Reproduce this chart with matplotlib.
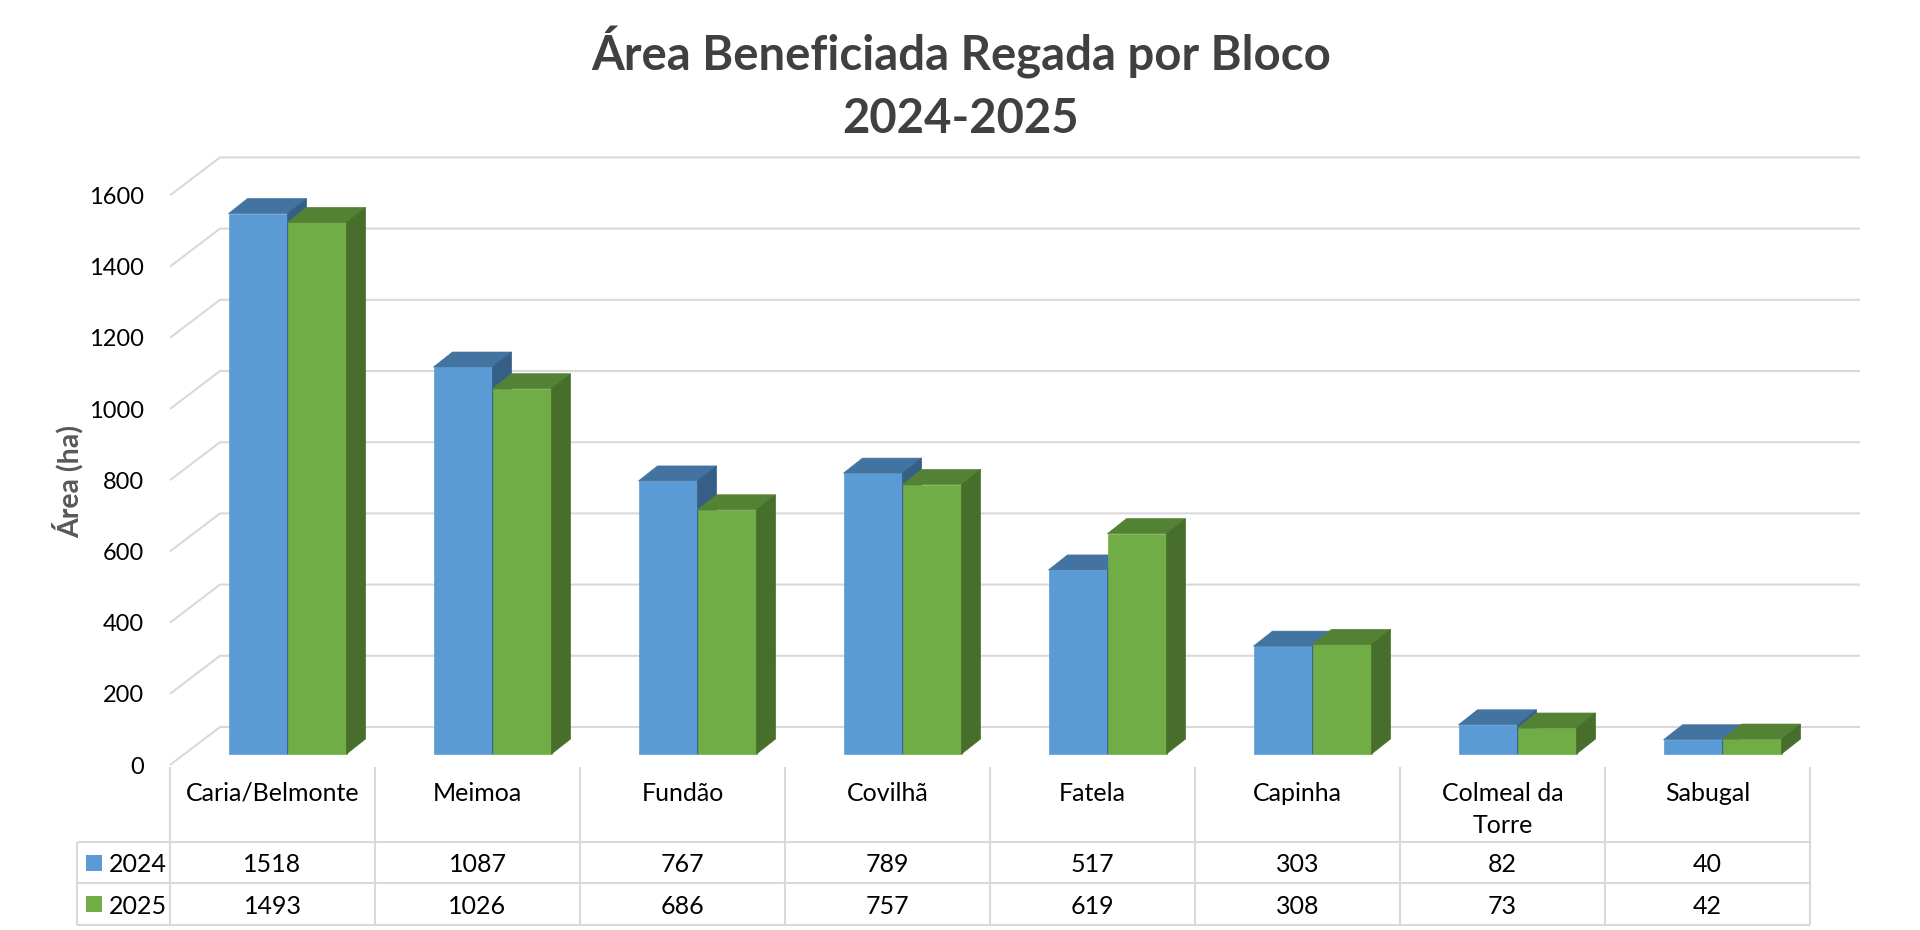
import matplotlib.pyplot as plt
from matplotlib.patches import Polygon, Rectangle

# dados
blocos = ['Caria/Belmonte', 'Meimoa', 'Fundão', 'Covilhã', 'Fatela', 'Capinha',
          'Colmeal da\nTorre', 'Sabugal']
anos = ['2024', '2025']
area_2024 = [1518, 1087, 767, 789, 517, 303, 82, 40]
area_2025 = [1493, 1026, 686, 757, 619, 308, 73, 42]
yticks = [0, 200, 400, 600, 800, 1000, 1200, 1400, 1600]

plt.rcParams['font.family'] = ['Lato', 'DejaVu Sans']

W, H = 1920, 930
fig = plt.figure(figsize=(19.2, 9.3), dpi=100)

# geometria em pixeis (plano da frente)
x0_px, y0_px = 170, 765
col_px = 205
unit_px = 71.2 / 200
top_px = 120
n = len(blocos)

wall_dx, wall_dy = 50 / col_px, 38 / unit_px
ax = fig.add_axes([x0_px / W, 1 - y0_px / H, (n * col_px + 50) / W, (y0_px - top_px) / H])
ax.set_xlim(0, n + wall_dx)
ax.set_ylim(0, (y0_px - top_px) / unit_px)
ax.axis('off')

grid_c = '#d9d9d9'
for v in yticks:
    ax.plot([0, wall_dx, n + wall_dx], [v, v + wall_dy, v + wall_dy],
            color=grid_c, lw=1.5, zorder=1, clip_on=False, solid_capstyle='butt')
    ax.text(-26 / col_px, v, str(v), ha='right', va='center_baseline',
            fontsize=17, color='black', clip_on=False)

# barras 3D (frente + topo + lado)
off_x, off_y = 15 / col_px, 11 / unit_px
bw = 59 / col_px
bdx, bdy = 19 / col_px, 15 / unit_px
centers = [i + 0.5 + off_x for i in range(n)]
series = [
    (area_2024, '#5b9bd5', '#4373a0', '#365f87'),
    (area_2025, '#70ad47', '#548235', '#476f2b'),
]
for k, (vals, front, top, side) in enumerate(series):
    xs = [c - bw + k * bw for c in centers]
    ax.bar(xs, vals, width=bw, bottom=off_y, align='edge', color=front,
           edgecolor=front, lw=0.5, zorder=3 + k)
    for x, v in zip(xs, vals):
        yt = off_y + v
        ax.add_patch(Polygon([(x, yt), (x + bw, yt), (x + bw + bdx, yt + bdy), (x + bdx, yt + bdy)],
                             closed=True, fc=top, ec=top, lw=0.5, zorder=3 + k))
        ax.add_patch(Polygon([(x + bw, off_y), (x + bw + bdx, off_y + bdy),
                              (x + bw + bdx, yt + bdy), (x + bw, yt)],
                             closed=True, fc=side, ec=side, lw=0.5, zorder=3 + k))

# tabela de dados
leg_px = 77
tax = fig.add_axes([leg_px / W, 1 - 925 / H, (x0_px + n * col_px - leg_px) / W, (925 - 767) / H])
xl = -(x0_px - leg_px) / col_px
tax.set_xlim(xl, n)
tax.set_ylim(3.8, 0)
tax.axis('off')
tax.vlines(range(n + 1), 0, 3.8, color=grid_c, lw=1.5, clip_on=False)
tax.vlines([xl], 1.8, 3.8, color=grid_c, lw=1.5, clip_on=False)
tax.hlines([1.8, 2.8, 3.8], xl, n, color=grid_c, lw=1.5, clip_on=False)

for i, nome in enumerate(blocos):
    tax.text(i + 0.5, 0.36, nome, ha='center', va='top', fontsize=18, linespacing=1.5)

cores = ['#5b9bd5', '#70ad47']
for r, (ano, vals) in enumerate(zip(anos, [area_2024, area_2025])):
    yc = 2.3 + r
    tax.add_patch(Rectangle(((86 - x0_px) / col_px, yc - 0.19), 16 / col_px, 0.38,
                            fc=cores[r], ec='none', clip_on=False))
    tax.text((109 - x0_px) / col_px, yc, ano, ha='left', va='center_baseline', fontsize=18)
    for i, v in enumerate(vals):
        tax.text(i + 0.5, yc, str(v), ha='center', va='center_baseline', fontsize=18)

fig.text(961 / W, 1 - 26 / H, 'Área Beneficiada Regada por Bloco\n2024-2025',
         ha='center', va='top', fontsize=34, fontweight='bold', color='#404040',
         linespacing=1.5)
fig.text(68 / W, 1 - 482 / H, 'Área (ha)', rotation=90, ha='center', va='center',
         fontsize=20.5, fontweight='bold', color='#595959')

fig.savefig('out.png', dpi=100)
